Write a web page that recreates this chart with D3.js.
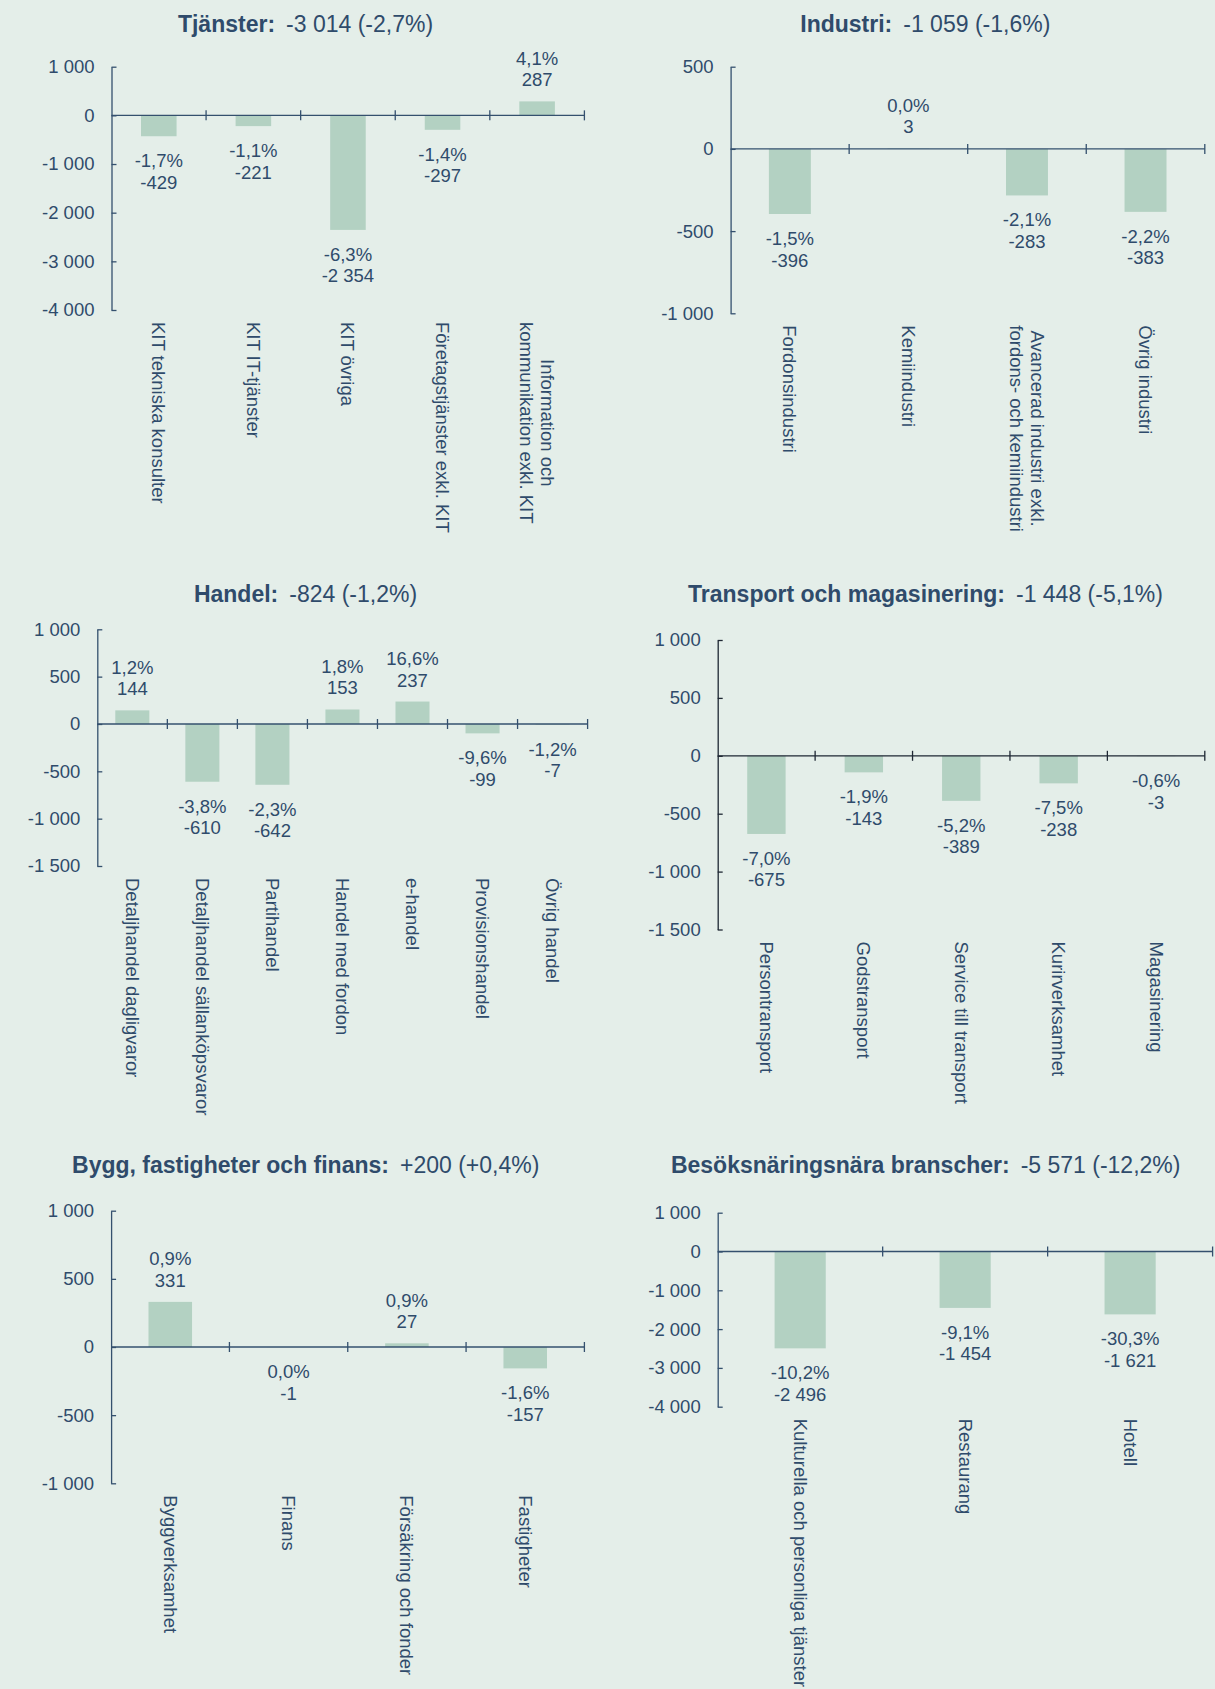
<!DOCTYPE html>
<html>
<head>
<meta charset="utf-8">
<script src="https://cdn.jsdelivr.net/npm/d3@7"></script>
<style>
  body { margin: 0; background: #e4eee9; }
  svg { display: block; font-family: "Liberation Sans", Arial, sans-serif; }
</style>
</head>
<body>
<svg></svg>
<script>
let width = 1215;
let height = 1689;

// chart data
const sectors = ['Tjänster', 'Industri', 'Handel', 'Transport och magasinering',
                 'Bygg, fastigheter och finans', 'Besöksnäringsnära branscher'];
const sectorTotals = [-3014, -1059, -824, -1448, 200, -5571];
const sectorPct = [-2.7, -1.6, -1.2, -5.1, 0.4, -12.2];

const tjansterCats = ['KIT tekniska konsulter', 'KIT IT-tjänster', 'KIT övriga',
                      'Företagstjänster exkl. KIT', 'Information och\nkommunikation exkl. KIT'];
const tjansterValues = [-429, -221, -2354, -297, 287];
const tjansterPct = [-1.7, -1.1, -6.3, -1.4, 4.1];

const industriCats = ['Fordonsindustri', 'Kemiindustri',
                      'Avancerad industri exkl.\nfordons- och kemiindustri', 'Övrig industri'];
const industriValues = [-396, 3, -283, -383];
const industriPct = [-1.5, 0.0, -2.1, -2.2];

const handelCats = ['Detaljhandel dagligvaror', 'Detaljhandel sällanköpsvaror', 'Partihandel',
                    'Handel med fordon', 'e-handel', 'Provisionshandel', 'Övrig handel'];
const handelValues = [144, -610, -642, 153, 237, -99, -7];
const handelPct = [1.2, -3.8, -2.3, 1.8, 16.6, -9.6, -1.2];

const transportCats = ['Persontransport', 'Godstransport', 'Service till transport',
                       'Kurirverksamhet', 'Magasinering'];
const transportValues = [-675, -143, -389, -238, -3];
const transportPct = [-7.0, -1.9, -5.2, -7.5, -0.6];

const byggCats = ['Byggverksamhet', 'Finans', 'Försäkring och fonder', 'Fastigheter'];
const byggValues = [331, -1, 27, -157];
const byggPct = [0.9, 0.0, 0.9, -1.6];

const besokCats = ['Kulturella och personliga tjänster', 'Restaurang', 'Hotell'];
const besokValues = [-2496, -1454, -1621];
const besokPct = [-10.2, -9.1, -30.3];

const yTicks = [
  [1000, 0, -1000, -2000, -3000, -4000],
  [500, 0, -500, -1000],
  [1000, 500, 0, -500, -1000, -1500],
  [1000, 500, 0, -500, -1000, -1500],
  [1000, 500, 0, -500, -1000],
  [1000, 0, -1000, -2000, -3000, -4000]
];

const panelData = [
  [tjansterCats, tjansterValues, tjansterPct],
  [industriCats, industriValues, industriPct],
  [handelCats, handelValues, handelPct],
  [transportCats, transportValues, transportPct],
  [byggCats, byggValues, byggPct],
  [besokCats, besokValues, besokPct]
];

// placement of each panel on the page
const layout = [
  {left: 111.5, right: 584.4, top: 66.7, bottom: 310, bar: 0.376, tx: 305.5, ty: 31.7, axis: '#34506e'},
  {left: 730.6, right: 1204.8, top: 66.7, bottom: 313.3, bar: 0.354, tx: 925.3, ty: 31.7, axis: '#34506e'},
  {left: 97.3, right: 587.6, top: 629.3, bottom: 866, bar: 0.486, tx: 305.5, ty: 602.3, axis: '#34506e'},
  {left: 717.7, right: 1204.8, top: 640, bottom: 929.5, bar: 0.394, tx: 925.5, ty: 602.3, axis: '#1e2733'},
  {left: 111.1, right: 584.4, top: 1210.7, bottom: 1483.3, bar: 0.368, tx: 305.7, ty: 1173.3, axis: '#34506e'},
  {left: 717.7, right: 1212.6, top: 1212.7, bottom: 1406.7, bar: 0.31, tx: 925.7, ty: 1173.3, axis: '#34506e'}
];

const textColor = '#2f4b6b';
const barColor = '#b3d1c2';

const sv = d3.formatLocale({decimal: ',', thousands: '\u00a0', grouping: [3], currency: ['', ' kr'], minus: '-'});
const fmtNum = sv.format(',d');
const fmtSigned = sv.format('+,d');
const fmtPct = sv.format('.1f');
const fmtPctSigned = sv.format('+.1f');

let svg = d3.select('svg')
            .attr('width', width)
            .attr('height', height);

svg.append('rect')
  .attr('width', width)
  .attr('height', height)
  .attr('fill', '#e4eee9');

layout.forEach((L, i) => makePanel(i, L));

function makePanel(i, L) {
  let [cats, values, pct] = panelData[i];
  let ticks = yTicks[i];

  let x = d3.scaleBand()
            .domain(cats)
            .range([L.left, L.right])
            .paddingInner(1 - L.bar)
            .paddingOuter((1 - L.bar) / 2);

  let y = d3.scaleLinear()
            .domain([d3.min(ticks), d3.max(ticks)])
            .range([L.bottom, L.top]);

  let g = svg.append('g').classed('panel', true);

  // title
  let title = g.append('text')
    .attr('x', L.tx)
    .attr('y', L.ty)
    .attr('text-anchor', 'middle')
    .attr('fill', textColor)
    .style('font-size', '23px');
  title.append('tspan')
    .attr('font-weight', 'bold')
    .text(sectors[i] + ':');
  let totalTxt = sectorTotals[i] > 0 ? fmtSigned(sectorTotals[i]) : fmtNum(sectorTotals[i]);
  let pctTxt = sectorPct[i] > 0 ? fmtPctSigned(sectorPct[i]) : fmtPct(sectorPct[i]);
  title.append('tspan')
    .attr('dx', 11)
    .text(`${totalTxt} (${pctTxt}%)`);

  // bars
  g.selectAll('.bar')
    .data(cats)
    .enter()
    .append('rect')
      .classed('bar', true)
      .attr('x', d => x(d))
      .attr('width', x.bandwidth())
      .attr('y', (d, j) => Math.min(y(values[j]), y(0)))
      .attr('height', (d, j) => Math.abs(y(values[j]) - y(0)))
      .attr('fill', barColor);

  // y axis
  let yAxis = g.append('g')
    .attr('transform', `translate(${L.left},0)`)
    .call(d3.axisLeft(y)
            .tickValues(ticks)
            .tickFormat(fmtNum)
            .tickSizeInner(-5)
            .tickSizeOuter(0)
            .tickPadding(17));
  yAxis.select('.domain').attr('stroke', L.axis).attr('stroke-width', 1.3);
  yAxis.selectAll('.tick line').attr('stroke', L.axis).attr('stroke-width', 1.3);
  yAxis.selectAll('.tick text')
    .attr('fill', textColor)
    .style('font-size', '18.5px')
    .style('font-family', '"Liberation Sans", Arial, sans-serif');

  // x axis at zero with ticks between categories
  let y0 = y(0);
  g.append('line')
    .attr('x1', L.left)
    .attr('x2', L.right)
    .attr('y1', y0)
    .attr('y2', y0)
    .attr('stroke', L.axis)
    .attr('stroke-width', 1.3);
  g.selectAll('.xtick')
    .data(cats)
    .enter()
    .append('line')
      .classed('xtick', true)
      .attr('x1', d => x(d) + x.bandwidth() + x.step() * x.paddingInner() / 2)
      .attr('x2', d => x(d) + x.bandwidth() + x.step() * x.paddingInner() / 2)
      .attr('y1', y0 - 5)
      .attr('y2', y0 + 5)
      .attr('stroke', L.axis)
      .attr('stroke-width', 1.3);

  // value labels
  cats.forEach((c, j) => {
    let v = values[j];
    let cx = x(c) + x.bandwidth() / 2;
    let yEnd = y(v);
    let b1 = v >= 0 ? yEnd - 36.5 : yEnd + 31;
    let lab = g.append('text')
      .attr('text-anchor', 'middle')
      .attr('fill', textColor)
      .style('font-size', '18.5px');
    lab.append('tspan').attr('x', cx).attr('y', b1).text(fmtPct(pct[j]) + '%');
    lab.append('tspan').attr('x', cx).attr('y', b1 + 21.5).text(fmtNum(v));
  });

  // rotated category labels
  cats.forEach(c => {
    let lines = c.split('\n');
    let cx = x(c) + x.bandwidth() / 2;
    let lg = g.append('g')
      .attr('transform', `translate(${cx},${L.bottom + 12}) rotate(90)`);
    let texts = lines.map((t, k) => lg.append('text')
      .attr('y', (k - (lines.length - 1) / 2) * 21)
      .attr('dy', '0.35em')
      .attr('text-anchor', 'middle')
      .attr('fill', textColor)
      .style('font-size', '18.5px')
      .text(t));
    let maxLen = d3.max(texts, t => t.node().getComputedTextLength());
    texts.forEach(t => t.attr('x', maxLen / 2));
  });
}
</script>
</body>
</html>
